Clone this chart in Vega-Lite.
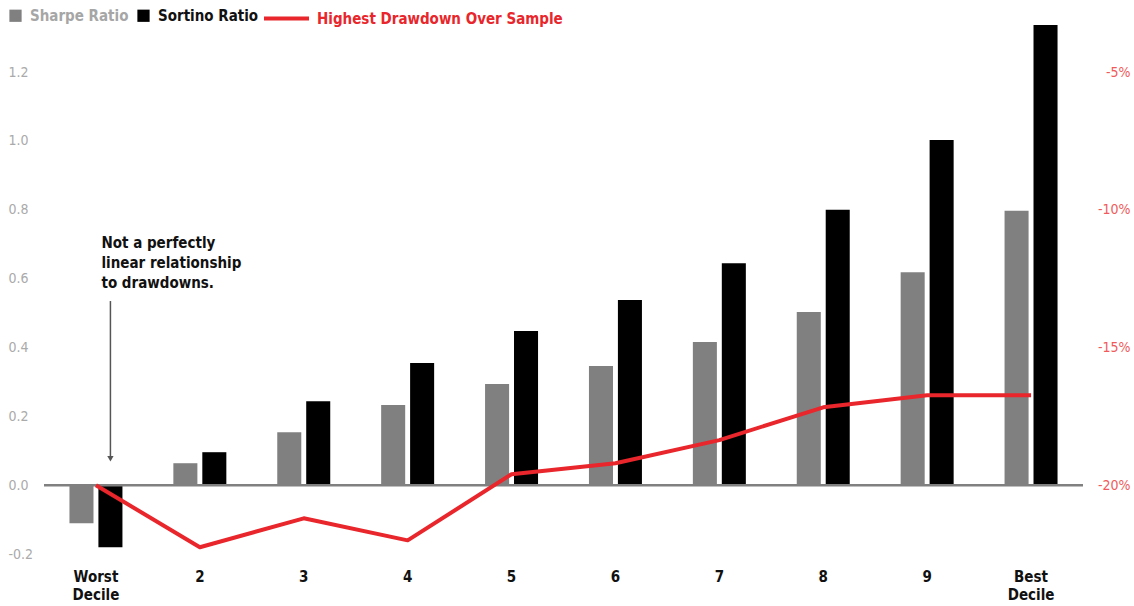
{
  "$schema": "https://vega.github.io/schema/vega-lite/v6.json",
  "width": 1039,
  "height": 544,
  "autosize": {"type": "none"},
  "padding": {"left": 44, "top": 17, "right": 51, "bottom": 45},
  "background": "white",
  "config": {
    "view": {"stroke": null},
    "font": "'DejaVu Sans Condensed', Roboto, sans-serif",
    "text": {"font": "'DejaVu Sans Condensed', Roboto, sans-serif"}
  },
  "datasets": {
    "bars": [
      {"decile": "Worst Decile", "series": "Sharpe Ratio", "value": -0.11},
      {"decile": "Worst Decile", "series": "Sortino Ratio", "value": -0.18},
      {"decile": "2", "series": "Sharpe Ratio", "value": 0.064},
      {"decile": "2", "series": "Sortino Ratio", "value": 0.096},
      {"decile": "3", "series": "Sharpe Ratio", "value": 0.154},
      {"decile": "3", "series": "Sortino Ratio", "value": 0.244},
      {"decile": "4", "series": "Sharpe Ratio", "value": 0.233},
      {"decile": "4", "series": "Sortino Ratio", "value": 0.355},
      {"decile": "5", "series": "Sharpe Ratio", "value": 0.294},
      {"decile": "5", "series": "Sortino Ratio", "value": 0.448},
      {"decile": "6", "series": "Sharpe Ratio", "value": 0.346},
      {"decile": "6", "series": "Sortino Ratio", "value": 0.538},
      {"decile": "7", "series": "Sharpe Ratio", "value": 0.416},
      {"decile": "7", "series": "Sortino Ratio", "value": 0.645},
      {"decile": "8", "series": "Sharpe Ratio", "value": 0.503},
      {"decile": "8", "series": "Sortino Ratio", "value": 0.8},
      {"decile": "9", "series": "Sharpe Ratio", "value": 0.619},
      {"decile": "9", "series": "Sortino Ratio", "value": 1.003},
      {"decile": "Best Decile", "series": "Sharpe Ratio", "value": 0.797},
      {"decile": "Best Decile", "series": "Sortino Ratio", "value": 1.337}
    ],
    "drawdown": [
      {"decile": "Worst Decile", "drawdown": -0.2},
      {"decile": "2", "drawdown": -0.2225},
      {"decile": "3", "drawdown": -0.212},
      {"decile": "4", "drawdown": -0.22},
      {"decile": "5", "drawdown": -0.196},
      {"decile": "6", "drawdown": -0.192},
      {"decile": "7", "drawdown": -0.1836},
      {"decile": "8", "drawdown": -0.1717},
      {"decile": "9", "drawdown": -0.1673},
      {"decile": "Best Decile", "drawdown": -0.1673}
    ],
    "note": [
      {"decile": "Worst Decile", "series": "Sortino Ratio", "top": 0.723, "arrowTop": 0.535, "arrowEnd": 0.085, "tip": 0.077, "text": "Not a perfectly\nlinear relationship\nto drawdowns."}
    ]
  },
  "encoding": {
    "x": {
      "field": "decile",
      "type": "nominal",
      "sort": ["Worst Decile", "2", "3", "4", "5", "6", "7", "8", "9", "Best Decile"],
      "scale": {"paddingInner": 0.49, "paddingOuter": 0.245},
      "axis": {
        "title": null,
        "domain": false,
        "ticks": false,
        "labelAngle": 0,
        "labelPadding": 8,
        "labelFontSize": 15,
        "labelFontWeight": "bold",
        "labelColor": "#111111",
        "labelLineHeight": 18,
        "labelExpr": "split(datum.label, ' ')"
      }
    }
  },
  "layer": [
    {
      "layer": [
        {
          "data": {"name": "bars"},
          "mark": {"type": "bar"},
          "encoding": {
            "xOffset": {"field": "series", "type": "nominal", "scale": {"paddingInner": 0.17, "paddingOuter": 0}},
            "y": {
              "field": "value",
              "type": "quantitative",
              "scale": {"domain": [-0.22, 1.36], "nice": false, "zero": false},
              "axis": {
                "title": null,
                "domain": false,
                "ticks": false,
                "grid": false,
                "values": [-0.2, 0, 0.2, 0.4, 0.6, 0.8, 1.0, 1.2],
                "labelExpr": "(datum.value < 0 ? '-' : '') + format(abs(datum.value), '.1f')",
                "labelAlign": "left",
                "labelPadding": 36,
                "labelFontSize": 14,
                "labelColor": "#aaaaaa"
              }
            },
            "color": {
              "field": "series",
              "type": "nominal",
              "scale": {"domain": ["Sharpe Ratio", "Sortino Ratio"], "range": ["#808080", "#000000"]},
              "legend": {
                "title": null,
                "orient": "none",
                "legendX": -36,
                "legendY": -9,
                "direction": "horizontal",
                "symbolType": "square",
                "symbolSize": 150,
                "symbolStrokeWidth": 0,
                "labelFontSize": 15,
                "labelFontWeight": "bold",
                "labelOffset": 7,
                "columnPadding": 7,
                "encode": {
                  "labels": {
                    "update": {
                      "fill": {"signal": "datum.label == 'Sharpe Ratio' ? '#a6a6a6' : '#111111'"}
                    }
                  }
                }
              }
            }
          }
        },
        {
          "data": {"values": [{"v": 0}]},
          "mark": {"type": "rule", "color": "#808080", "strokeWidth": 2.5},
          "encoding": {"y": {"field": "v", "type": "quantitative"}, "x": null}
        },
        {
          "data": {"name": "note"},
          "mark": {"type": "text", "align": "left", "baseline": "top", "dx": -9, "fontSize": 15, "fontWeight": "bold", "lineHeight": 20, "lineBreak": "\n", "color": "#111111"},
          "encoding": {
            "xOffset": {"field": "series", "type": "nominal"},
            "y": {"field": "top", "type": "quantitative"},
            "text": {"field": "text"}
          }
        },
        {
          "data": {"name": "note"},
          "mark": {"type": "rule", "color": "#555555", "strokeWidth": 1.5},
          "encoding": {
            "xOffset": {"field": "series", "type": "nominal"},
            "y": {"field": "arrowTop", "type": "quantitative"},
            "y2": {"field": "arrowEnd"}
          }
        },
        {
          "data": {"name": "note"},
          "mark": {"type": "point", "shape": "triangle-down", "filled": true, "size": 40, "color": "#555555", "opacity": 1},
          "encoding": {
            "xOffset": {"field": "series", "type": "nominal"},
            "y": {"field": "tip", "type": "quantitative"}
          }
        }
      ]
    },
    {
      "data": {"name": "drawdown"},
      "mark": {"type": "line", "strokeWidth": 4, "strokeJoin": "round", "strokeCap": "butt"},
      "encoding": {
        "y": {
          "field": "drawdown",
          "type": "quantitative",
          "scale": {"domain": [-0.2275, -0.03], "nice": false, "zero": false},
          "axis": {
            "orient": "right",
            "title": null,
            "domain": false,
            "ticks": false,
            "grid": false,
            "values": [-0.2, -0.15, -0.1, -0.05],
            "labelExpr": "(datum.value < 0 ? '-' : '') + format(abs(datum.value) * 100, '.0f') + '%'",
            "labelAlign": "right",
            "labelPadding": 47,
            "labelFontSize": 14,
            "labelColor": "#f05a5a"
          }
        },
        "stroke": {
          "datum": "Highest Drawdown Over Sample",
          "scale": {"range": ["#e8262b"]},
          "legend": {
            "title": null,
            "orient": "none",
            "legendX": 218,
            "legendY": -23,
            "symbolType": "stroke",
            "symbolSize": 2025,
            "symbolStrokeWidth": 4,
            "labelFontSize": 15,
            "labelFontWeight": "bold",
            "labelColor": "#e8262b",
            "labelOffset": 6,
            "labelLimit": 500
          }
        }
      }
    }
  ],
  "resolve": {"scale": {"y": "independent"}}
}
